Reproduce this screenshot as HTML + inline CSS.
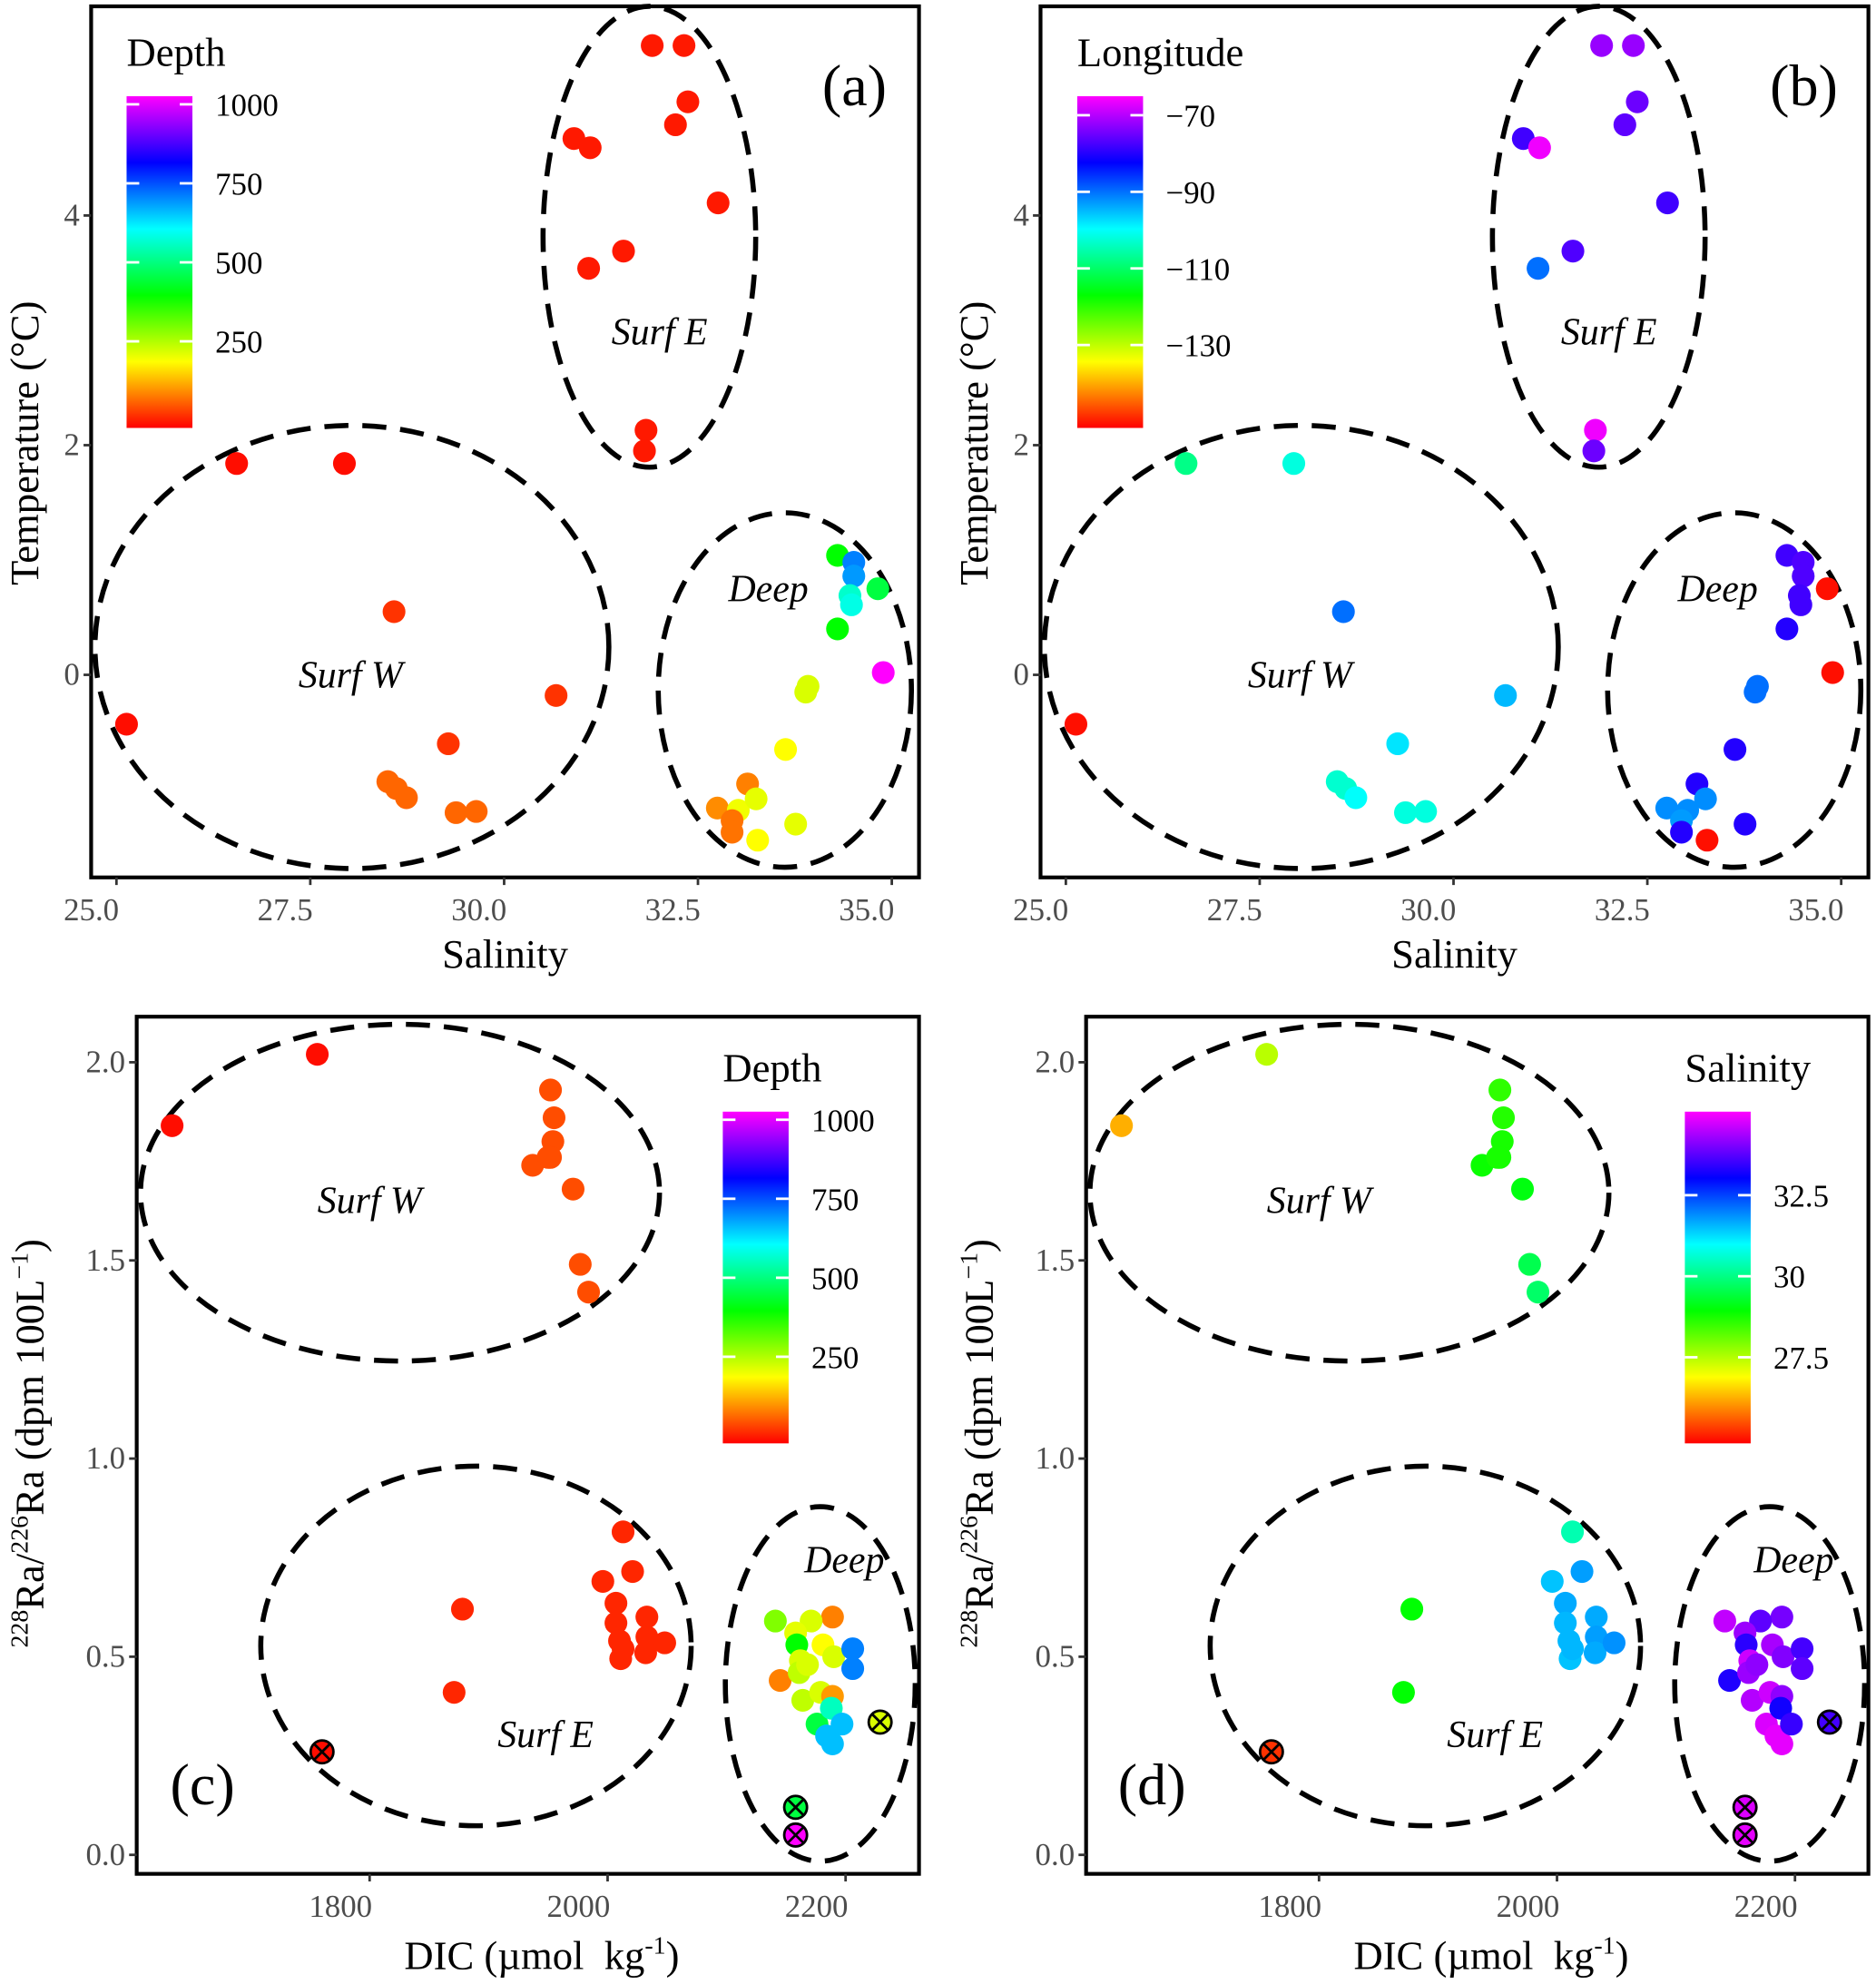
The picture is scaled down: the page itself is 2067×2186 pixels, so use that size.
<!DOCTYPE html>
<html><head><meta charset="utf-8"><style>
html,body{margin:0;padding:0;background:#fff;}
svg{display:block;font-family:"Liberation Serif",serif;}
.tick{font-size:25px;fill:#4d4d4d;}
.ttl{font-size:32px;fill:#000;}
.grp{font-size:30px;font-style:italic;fill:#000;}
.pl{font-size:46px;fill:#000;}
</style></head><body>
<svg id="fig" width="2067" height="2186" viewBox="0 0 1482 1567" preserveAspectRatio="none" xmlns="http://www.w3.org/2000/svg">
<defs>
<linearGradient id="rb" x1="0" y1="1" x2="0" y2="0">
<stop offset="0" stop-color="hsl(0,100%,50%)"/><stop offset="0.2" stop-color="hsl(60,100%,50%)"/><stop offset="0.4" stop-color="hsl(120,100%,50%)"/><stop offset="0.6" stop-color="hsl(180,100%,50%)"/><stop offset="0.8" stop-color="hsl(240,100%,50%)"/><stop offset="1" stop-color="hsl(300,100%,50%)"/>
</linearGradient>
</defs>
</svg>
<script>
// ---- data: panels a/b (salinity vs temperature) ----
const salTS=[31.91,32.32,32.37,32.21,30.90,31.11,32.76,31.54,31.09,31.83,31.81,
 26.55,27.94,28.58,30.67,25.13,29.28,28.50,28.61,28.74,29.38,29.64,
 34.30,34.51,34.51,34.82,34.46,34.48,34.30,34.89,33.92,33.89,33.63,33.14,32.75,33.02,33.25,32.94,32.94,33.27,33.76];
const tempTS=[5.48,5.48,4.99,4.79,4.67,4.59,4.11,3.69,3.54,2.13,1.95,
 1.84,1.84,0.55,-0.18,-0.43,-0.60,-0.93,-0.99,-1.07,-1.20,-1.19,
 1.04,0.98,0.86,0.75,0.69,0.61,0.40,0.02,-0.10,-0.15,-0.65,-0.95,-1.16,-1.18,-1.08,-1.27,-1.37,-1.44,-1.30];
const depthTS=[20,20,20,20,20,20,20,20,20,20,20,
 10,10,40,40,10,40,80,80,80,80,80,
 400,700,680,450,560,580,400,1000,230,230,200,100,110,210,220,90,90,200,220];
const lonTS=[-72,-72,-75,-76,-78,-66,-78,-77,-90,-66,-75,
 -108,-102,-90,-95,-151,-98,-103,-103,-100,-102,-102,
 -78,-77,-77,-151,-78,-78,-80,-151,-90,-90,-80,-80,-92,-92,-92,-93,-80,-151,-80];
// ---- data: panels c/d (DIC vs Ra ratio) ----
const dicR=[1634,1756,1952,1955,1954,1952,1937,1950,1971,1977,1984,
 1878,1871,2013,1996,2021,2007,2007,2010,2011,2033,2033,2032,2048,2013,
 2189,2171,2141,2158,2181,2190,2159,2162,2206,2206,2145,2161,2164,2179,2189,2176,2188,2184,2189,2197,2168];
const raR=[1.84,2.02,1.93,1.86,1.80,1.76,1.74,1.76,1.68,1.49,1.42,
 0.62,0.41,0.815,0.69,0.715,0.635,0.585,0.54,0.495,0.60,0.55,0.51,0.535,0.52,
 0.60,0.59,0.59,0.56,0.53,0.50,0.53,0.49,0.52,0.47,0.44,0.46,0.39,0.41,0.40,0.33,0.37,0.30,0.28,0.33,0.48];
const depthR=[10,10,60,60,60,60,60,60,60,60,60,
 30,30,30,30,30,30,30,30,30,30,30,30,30,30,
 100,230,300,220,200,230,400,230,700,700,100,250,250,230,120,450,550,650,650,650,230];
const salR=[26.3,27.5,28.6,28.7,28.8,28.8,28.9,28.8,29.1,29.6,29.8,
 29.0,29.0,30.4,31.5,31.8,31.7,31.6,31.6,31.5,31.7,31.8,31.7,31.9,31.6,
 34.0,33.8,34.6,34.3,34.4,34.1,33.4,34.7,33.6,33.8,33.3,34.3,34.5,34.7,34.2,34.8,33.2,34.9,34.9,33.5,34.2];
// crossed samples
const dicX=[1760,2158,2158,2229];
const raX=[0.26,0.12,0.05,0.335];
const depthX=[10,450,1000,230];
const salX=[25.3,34.8,34.9,33.6];
// tick labels
const salTicks=[25.0,27.5,30.0,32.5,35.0];
const tempTicks=[0,2,4];
const dicTicks=[1800,2000,2200];
const raTicks=[0.0,0.5,1.0,1.5,2.0];
const depthBar=[250,500,750,1000];
const lonBar=[-130,-110,-90,-70];
const salBar=[27.5,30.0,32.5];

const svg=document.getElementById('fig');
const NS='http://www.w3.org/2000/svg';
function mk(tag,attrs,parent){const e=document.createElementNS(NS,tag);for(const k in attrs)e.setAttribute(k,attrs[k]);(parent||svg).appendChild(e);return e;}
function col(v,lo,hi){let t=(v-lo)/(hi-lo);t=Math.max(0,Math.min(1,t));return 'hsl('+(300*t)+',100%,50%)';}

const P={
 a:{L:72,R:726,T:5,B:693,dx:0},
 b:{L:822,R:1476,T:5,B:693,dx:750},
 c:{L:108,R:726,T:803,B:1480,dx:0},
 d:{L:858,R:1476,T:803,B:1480,dx:750}
};
const sx=(s,dx)=>92+dx+(s-25)*61.25;
const ty=t=>533-t*90.7;
const dxs=(v,dx)=>292+dx+(v-1800)*0.94;
const ry=r=>1465-r*313;

function frame(p,name){
 const r=mk('rect',{x:p.L,y:p.T,width:p.R-p.L,height:p.B-p.T,fill:'none',stroke:'#000','stroke-width':3});
 
 
}
function xtick(x,yb,label,name){
 const l=mk('line',{x1:x,x2:x,y1:yb,y2:yb+6,stroke:'#333','stroke-width':2});
 
 
 const t=mk('text',{x:x+2,y:yb+34,'text-anchor':'end',class:'tick'});t.textContent=label;
 
 
}
function ytick(y,xl,label,name){
 const l=mk('line',{x1:xl-6,x2:xl,y1:y,y2:y,stroke:'#333','stroke-width':2});
 
 
 const t=mk('text',{x:xl-9,y:y+8,'text-anchor':'end',class:'tick'});t.textContent=label;
 
 
}
function ell(cx,cy,rx,ryy,name){
 const e=mk('ellipse',{cx:cx,cy:cy,rx:rx,ry:ryy,fill:'none',stroke:'#000','stroke-width':4,'stroke-dasharray':'19 11'});
 
 
}
function txt(x,y,s,cls,name,anchor,rot){
 const a={x:x,y:y,class:cls,'text-anchor':anchor||'middle'};
 if(rot)a.transform='rotate(-90 '+x+' '+y+')';
 const t=mk('text',a);t.innerHTML=s;
 
 
 return t;
}
function pt(x,y,c,name){
 const e=mk('circle',{cx:x,cy:y,r:9,fill:c});
 
 
}
function xpt(x,y,c,name){
 const g=mk('g',{});
 
 
 mk('circle',{cx:x,cy:y,r:9,fill:c,stroke:'#000','stroke-width':2},g);
 mk('line',{x1:x-6.5,y1:y-6.5,x2:x+6.5,y2:y+6.5,stroke:'#000','stroke-width':2},g);
 mk('line',{x1:x-6.5,y1:y+6.5,x2:x+6.5,y2:y-6.5,stroke:'#000','stroke-width':2},g);
}
function cbar(x,y,title,labels,vmap,name){
 txt(x,y-24,title,'ttl',name+'-title','start');
 const r=mk('rect',{x:x,y:y,width:52,height:262,fill:'url(#rb)'});
 
 
 labels.forEach(v=>{const yy=vmap(v);
  mk('line',{x1:x,x2:x+10,y1:yy,y2:yy,stroke:'#fff','stroke-width':2});
  mk('line',{x1:x+42,x2:x+52,y1:yy,y2:yy,stroke:'#fff','stroke-width':2});
  txt(x+70,yy+9,String(v).replace('-','\u2212'),'tick',name+'-label','start').style.fill='#000';
 });
}

['a','b'].forEach(k=>{
 const p=P[k];frame(p,'panel-'+k);
 salTicks.forEach(s=>xtick(sx(s,p.dx),p.B,s.toFixed(1),'panel-'+k));
 tempTicks.forEach(t=>ytick(ty(t),p.L,String(t),'panel-'+k));
 txt(399+p.dx,764,'Salinity','ttl','panel-'+k+'-x-axis-title');
 txt(30+p.dx,350,'Temperature (°C)','ttl','panel-'+k+'-y-axis-title','middle',true);
 ell(513+p.dx,187,84,182,'panel-'+k+'-surf-e-ellipse');
 ell(278+p.dx,511,203,175,'panel-'+k+'-surf-w-ellipse');
 ell(620+p.dx,545,100,140,'panel-'+k+'-deep-ellipse');
 txt(521+p.dx,272,'Surf E','grp','panel-'+k+'-surf-e-label');
 txt(277+p.dx,543,'Surf W','grp','panel-'+k+'-surf-w-label');
 txt(607+p.dx,475,'Deep','grp','panel-'+k+'-deep-label');
 txt(675+p.dx,83,'('+k+')','pl','panel-'+k+'-letter');
 salTS.forEach((s,i)=>{
  const c=k==='a'?col(depthTS[i],0,1000):col(lonTS[i],-152,-65);
  pt(sx(s,p.dx),ty(tempTS[i]),c,'panel-'+k+'-point');
 });
});
cbar(100,76,'Depth',depthBar,v=>338-v*0.2496-6,'panel-a-colorbar');
cbar(851,76,'Longitude',lonBar,v=>91+(-70-v)*3.025,'panel-b-colorbar');

['c','d'].forEach(k=>{
 const p=P[k];frame(p,'panel-'+k);
 dicTicks.forEach(v=>xtick(dxs(v,p.dx),p.B,String(v),'panel-'+k));
 raTicks.forEach(v=>ytick(ry(v),p.L,v.toFixed(1),'panel-'+k));
 txt(428+p.dx,1555,'DIC (µmol&#160;&#160;kg<tspan font-size="20" dy="-12">-1</tspan><tspan dy="12">)</tspan>','ttl','panel-'+k+'-x-axis-title');
 txt(34+p.dx,1140,'<tspan font-size="20" dy="-12">228</tspan><tspan dy="12">Ra/</tspan><tspan font-size="20" dy="-12">226</tspan><tspan dy="12">Ra (dpm 100L</tspan><tspan font-size="20" dy="-12">−1</tspan><tspan dy="12">)</tspan>','ttl','panel-'+k+'-y-axis-title','middle',true);
 ell(316+p.dx,942,205,133,'panel-'+k+'-surf-w-ellipse');
 ell(376+p.dx,1300,170,142,'panel-'+k+'-surf-e-ellipse');
 ell(648+p.dx,1330,75,140,'panel-'+k+'-deep-ellipse');
 txt(292+p.dx,958,'Surf W','grp','panel-'+k+'-surf-w-label');
 txt(431+p.dx,1380,'Surf E','grp','panel-'+k+'-surf-e-label');
 txt(667+p.dx,1242,'Deep','grp','panel-'+k+'-deep-label');
 txt(160+p.dx,1425,'('+k+')','pl','panel-'+k+'-letter');
 dicR.forEach((v,i)=>{
  const c=k==='c'?col(depthR[i],0,1000):col(salR[i],24.9,35.1);
  pt(dxs(v,p.dx),ry(raR[i]),c,'panel-'+k+'-point');
 });
 dicX.forEach((v,i)=>{
  const c=k==='c'?col(depthX[i],0,1000):col(salX[i],24.9,35.1);
  xpt(dxs(v,p.dx),ry(raX[i]),c,'panel-'+k+'-crossed-point');
 });
});
cbar(571,878,'Depth',depthBar,v=>1140-v*0.2496-6,'panel-c-colorbar');
cbar(1331,878,'Salinity',salBar,v=>944+(32.5-v)*25.6,'panel-d-colorbar');
</script>
</body></html>
